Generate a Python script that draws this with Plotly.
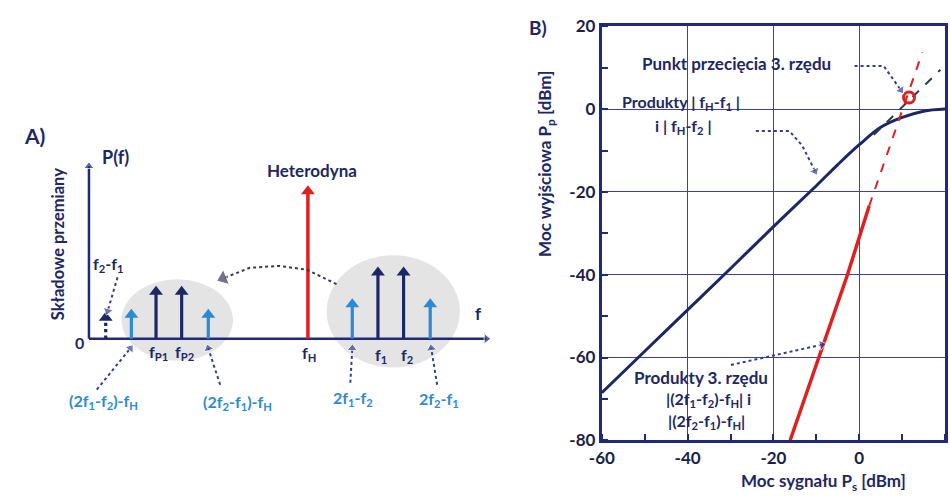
import plotly.graph_objects as go

# ---------------- Data: panel A (schematic spectrum, arbitrary units) -------------
dark_freq = [6.8, 9.4, 29.3, 31.9]          # fP1, fP2, f1, f2
dark_amp = [4.9, 4.9, 6.9, 6.9]
diff_freq = [1.7]                            # f2 - f1
diff_amp = [2.2]
light_freq = [4.3, 12.1, 26.7, 34.6]         # 3rd-order products
light_amp = [2.5, 2.5, 3.6, 3.6]
lo_freq = [22.2]                             # heterodyne fH
lo_amp = [15.4]

# ---------------- Data: panel B --------------------------------------------------
ps_main = [-60, -50, -40, -30, -20, -10, -5, 0, 5, 10, 15, 20]
pp_main = [-68.5, -58.5, -48.5, -38.5, -28.4, -18.5, -13.4, -8.6, -4.4, -2.0, -0.5, 0.0]
ps_main_ext = [3.4, 18.9]
pp_main_ext = [-6.2, 9.5]
ps_im3 = [-16.1, -10.0, -2.75, 2.3]
pp_im3 = [-80.0, -61.5, -40.0, -23.4]
ps_im3_ext = [2.3, 14.7]
pp_im3_ext = [-23.4, 13.7]
ps_ip3 = [11.6]
pp_ip3 = [2.8]

x_ticks = [-60, -40, -20, 0, 20]
x_ticktext = ['-60', '-40', '-20', '0', '20']
y_ticks = [-80, -60, -40, -20, 0, 20]
y_ticktext = ['-80', '-60', '-40', '-20', '0', '20']

NAVY = '#1c2766'
AXIS = '#1f2b7a'
GRID = '#3b40ad'
LBLUE = '#2a8ad6'
RED = '#e01f1f'
DOT = '#2f3f8f'
FONT = 'Lato'
W, H = 950, 503

fig = go.Figure()


def stems(xs, ys):
    X, Y = [], []
    for x, y in zip(xs, ys):
        X += [x, x, None]
        Y += [0, y, None]
    return X, Y


# ---- panel A: background blobs
fig.add_shape(type='circle', xref='x2', yref='y2', x0=3.3, x1=14.6, y0=-2.3, y1=6.2,
              fillcolor='#dddddd', opacity=0.8, line=dict(width=0), layer='below')
fig.add_shape(type='circle', xref='x2', yref='y2', x0=24.1, x1=37.6, y0=-3.0, y1=8.7,
              fillcolor='#dddddd', opacity=0.8, line=dict(width=0), layer='below')

# ---- panel A: axes with arrows
fig.add_trace(go.Scatter(x=[0, 40.3], y=[0, 0], mode='lines+markers', xaxis='x2', yaxis='y2',
                         line=dict(color=AXIS, width=2.5),
                         marker=dict(symbol='triangle-up', size=[0, 9], color=AXIS, angleref='previous'),
                         hoverinfo='skip', showlegend=False))
fig.add_trace(go.Scatter(x=[0, 0], y=[0, 18.0], mode='lines+markers', xaxis='x2', yaxis='y2',
                         line=dict(color=AXIS, width=2.5),
                         marker=dict(symbol='triangle-up', size=[0, 9], color=AXIS, angleref='previous'),
                         hoverinfo='skip', showlegend=False))

# ---- panel A: spectral lines
for fx, fy, col, w, dash in [(dark_freq, dark_amp, NAVY, 3.2, 'solid'),
                             (diff_freq, diff_amp, NAVY, 3.2, 'dot'),
                             (light_freq, light_amp, LBLUE, 3.2, 'solid'),
                             (lo_freq, lo_amp, RED, 3.5, 'solid')]:
    X, Y = stems(fx, fy)
    fig.add_trace(go.Scatter(x=X, y=Y, mode='lines', xaxis='x2', yaxis='y2',
                             line=dict(color=col, width=w, dash=dash),
                             hoverinfo='skip', showlegend=False))
    fig.add_trace(go.Scatter(x=fx, y=fy, mode='markers', xaxis='x2', yaxis='y2',
                             marker=dict(symbol='triangle-up', size=12, color=col),
                             hoverinfo='skip', showlegend=False))


def dotted(xs, ys, xa, ya, head=9, col=DOT, width=2):
    n = len(xs)
    fig.add_trace(go.Scatter(x=xs, y=ys, mode='lines+markers', xaxis=xa, yaxis=ya,
                             line=dict(color=col, width=width, dash='dot'),
                             marker=dict(symbol='triangle-up', size=[0] * (n - 1) + [head],
                                         color=col, angleref='previous'),
                             hoverinfo='skip', showlegend=False))


# panel A dotted pointers
dotted([2.9, 1.9], [6.4, 2.9], 'x2', 'y2')
dotted([0.8, 4.2], [-5.3, -1.0], 'x2', 'y2')
dotted([13.3, 12.1], [-4.8, -1.0], 'x2', 'y2')
dotted([26.5, 26.7], [-4.6, -1.0], 'x2', 'y2')
dotted([35.3, 34.7], [-4.8, -1.0], 'x2', 'y2')
dotted([25.1, 22.1, 19.3, 16.3, 13.6], [5.7, 7.2, 7.6, 7.4, 6.3], 'x2', 'y2', head=14, col='#3a3a55')

# ---- panel B curves
fig.add_trace(go.Scatter(x=ps_main, y=pp_main, mode='lines', line=dict(color=NAVY, width=3, shape='spline'),
                         hoverinfo='skip', showlegend=False))
fig.add_trace(go.Scatter(x=ps_main_ext, y=pp_main_ext, mode='lines',
                         line=dict(color='#2a3a4a', width=2, dash='dash'),
                         hoverinfo='skip', showlegend=False))
fig.add_trace(go.Scatter(x=ps_im3, y=pp_im3, mode='lines', line=dict(color=RED, width=3.5),
                         hoverinfo='skip', showlegend=False))
fig.add_trace(go.Scatter(x=ps_im3_ext, y=pp_im3_ext, mode='lines',
                         line=dict(color=RED, width=2, dash='dash'),
                         hoverinfo='skip', showlegend=False))
fig.add_trace(go.Scatter(x=ps_ip3, y=pp_ip3, mode='markers',
                         marker=dict(symbol='circle-open', size=11, color=RED, line=dict(width=3)),
                         hoverinfo='skip', showlegend=False))

dotted([-1.1, 5.7, 9.7], [10.4, 10.4, 4.6], 'x', 'y')
dotted([-24.1, -16.3, -13.3, -10.3], [-5.3, -5.3, -8.8, -15.0], 'x', 'y')
dotted([-29.9, -8.7], [-61.8, -56.9], 'x', 'y')


def P(px, py):
    return px / W, 1 - py / H


def txt(px, py, text, size=16, color=NAVY, angle=0):
    x, y = P(px, py)
    fig.add_annotation(x=x, y=y, xref='paper', yref='paper', text=text, showarrow=False,
                       textangle=angle, xanchor='center', yanchor='middle',
                       font=dict(family=FONT, size=size, color=color, weight='bold'))


# panel A labels
txt(22, 130, 'A)', 21)
txt(104, 152, 'P(f)', 18)
txt(45, 243, 'Składowe przemiany', 16.5, angle=-90)
txt(303, 166, 'Heterodyna', 17)
txt(472, 316, 'f', 17)
txt(67, 346, '0', 16)
txt(96, 265, 'f<sub>2</sub>-f<sub>1</sub>', 16)
txt(148, 356, 'f<sub>P1</sub>', 16)
txt(174, 356, 'f<sub>P2</sub>', 16)
txt(300, 357, 'f<sub>H</sub>', 16)
txt(373, 359, 'f<sub>1</sub>', 16)
txt(399, 359, 'f<sub>2</sub>', 16)
txt(92, 408, '(2f<sub>1</sub>-f<sub>2</sub>)-f<sub>H</sub>', 16, LBLUE)
txt(228, 409, '(2f<sub>2</sub>-f<sub>1</sub>)-f<sub>H</sub>', 16, LBLUE)
txt(345, 404, '2f<sub>1</sub>-f<sub>2</sub>', 16, LBLUE)
txt(432, 405, '2f<sub>2</sub>-f<sub>1</sub>', 16, LBLUE)

# panel B labels
txt(532, 17, 'B)', 19)
txt(734, 55, 'Punkt przecięcia 3. rzędu', 17)
txt(677, 95, 'Produkty | f<sub>H</sub>-f<sub>1</sub> |', 16)
txt(680, 121, 'i | f<sub>H</sub>-f<sub>2</sub> |', 16)
txt(698, 382, 'Produkty 3. rzędu', 17)
txt(705, 405, '|(2f<sub>1</sub>-f<sub>2</sub>)-f<sub>H</sub>| i', 16)
txt(703, 428, '|(2f<sub>2</sub>-f<sub>1</sub>)-f<sub>H</sub>|', 16)
txt(822, 492, 'Moc sygnału P<sub>s</sub> [dBm]', 17)
txt(541, 160, 'Moc wyjściowa P<sub>p</sub> [dBm]', 17, angle=-90)

axis_common = dict(showline=True, linecolor=AXIS, linewidth=3, mirror=True,
                   showgrid=True, gridcolor=GRID, gridwidth=1.2, zeroline=False,
                   ticks='', tickfont=dict(family=FONT, size=17, color='#1a1f4a', weight='bold'),
                   minor=dict(dtick=10, ticks='inside', ticklen=6, tickwidth=2, tickcolor=AXIS,
                              showgrid=False))

fig.update_layout(
    width=W, height=H, margin=dict(l=0, r=0, t=0, b=0),
    paper_bgcolor='white', plot_bgcolor='white', showlegend=False,
    xaxis=dict(domain=[597 / W, 945 / W], range=[-60, 20], tickvals=x_ticks, ticktext=x_ticktext,
               anchor='y', **axis_common),
    yaxis=dict(domain=[1 - 448 / H, 1 - 16 / H], range=[-80, 20], tickvals=y_ticks, ticktext=y_ticktext,
               anchor='x', **axis_common),
    xaxis2=dict(domain=[0, 0.55], range=[-7.7, 44.55], visible=False, anchor='y2'),
    yaxis2=dict(domain=[0, 1], range=[-16.1, 34.2], visible=False, anchor='x2'),
)

fig.write_html('out.html')
